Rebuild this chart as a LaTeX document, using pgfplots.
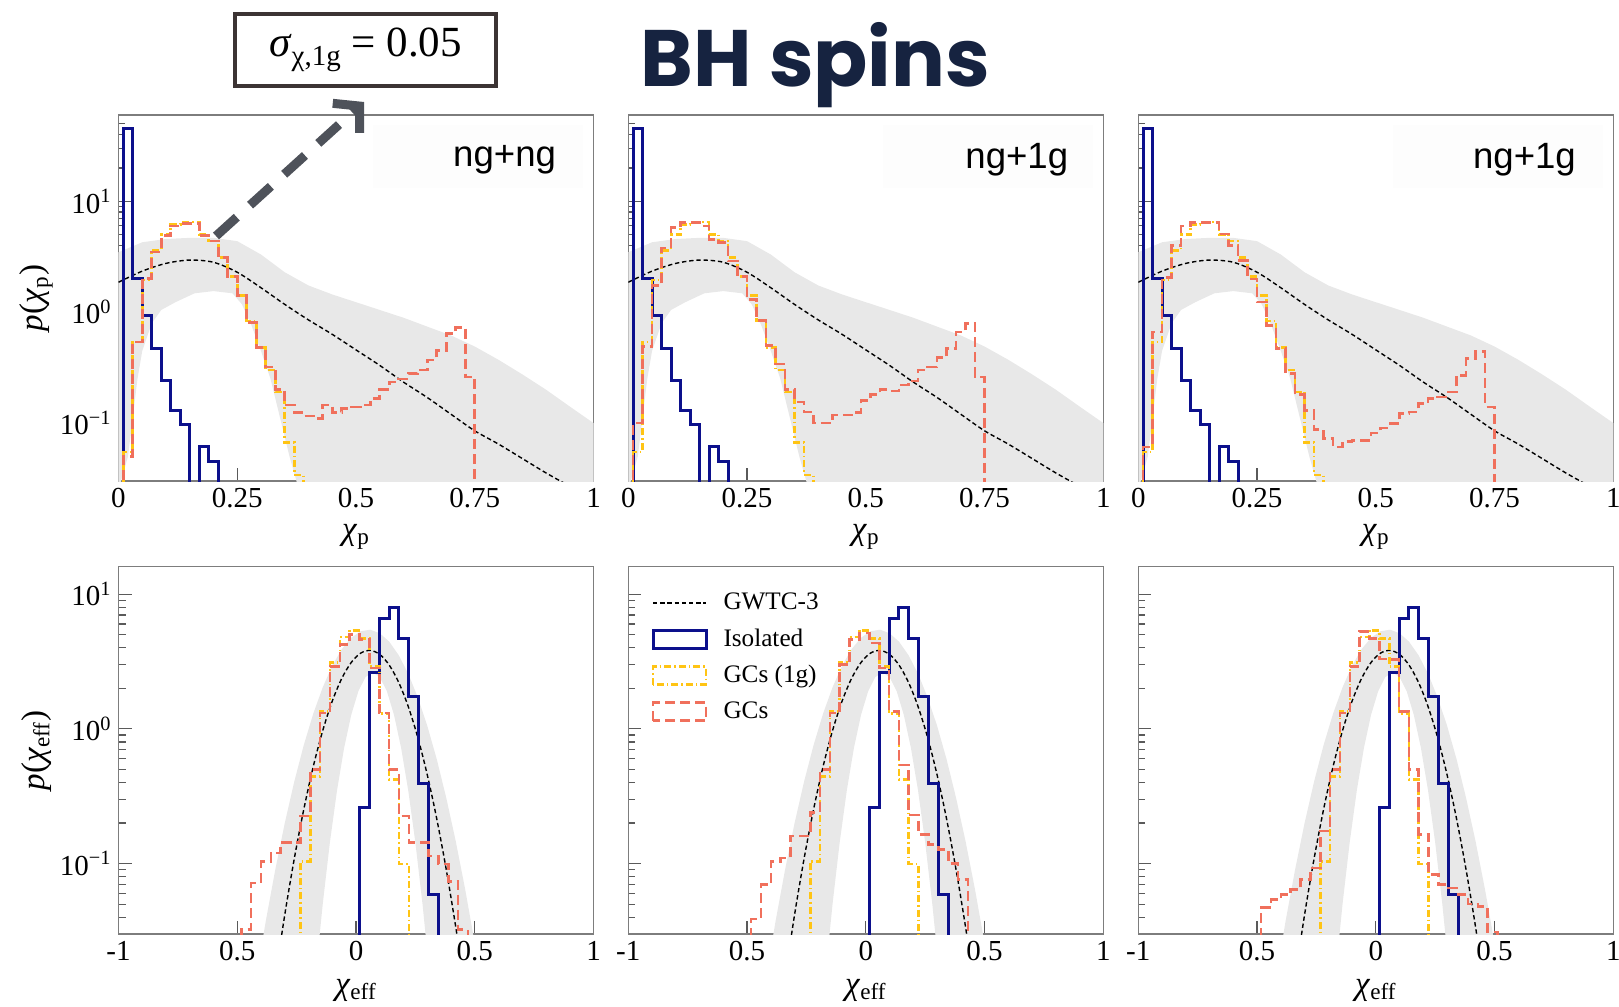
\documentclass[border=0pt]{standalone}
\usepackage{pgfplots}
\pgfplotsset{compat=1.18}
\usepackage{fontspec}
\setmainfont{Liberation Serif}
\newfontfamily\sansfont{Liberation Sans}
\newfontfamily\titlefont{Poppins}
\usetikzlibrary{arrows.meta}

\definecolor{isoblue}{RGB}{12,16,140}
\definecolor{gcyellow}{RGB}{255,196,20}
\definecolor{gcorange}{RGB}{240,112,92}
\definecolor{bandgray}{RGB}{232,232,232}
\definecolor{framegray}{RGB}{125,125,125}
\definecolor{tickgray}{RGB}{90,90,90}
\definecolor{titlenavy}{RGB}{22,35,64}
\definecolor{arrowgray}{RGB}{78,82,90}
\definecolor{boxborder}{RGB}{60,52,52}
\definecolor{boxbg}{RGB}{253,253,253}

\pgfplotsset{
 myPanel/.style={scale only axis, width=237.5pt, ymin=0.03,
   tick align=inside, tick pos=left,
   axis line style={draw=framegray, line width=0.7pt},
   major tick length=6.5pt, minor tick length=3.5pt,
   every tick/.append style={draw=tickgray, line width=0.6pt},
   tick label style={font=\fontsize{14.5}{16}\selectfont},
   ytick={0.1,1,10}, clip=true,
   xlabel style={at={(axis description cs:0.5,-0.153)}, anchor=center, font=\fontsize{16.5}{18}\selectfont},
   ylabel style={at={(axis description cs:-0.173,0.5)}, anchor=center, font=\fontsize{16.5}{18}\selectfont}},
 myTop/.style={myPanel, height=183pt, xmin=0, xmax=1, ymax=60,
   xtick={0,0.25,0.5,0.75,1}, xticklabels={0,0.25,0.5,0.75,1},
   minor ytick={0.03,0.04,0.05,0.06,0.07,0.08,0.09,0.2,0.3,0.4,0.5,0.6,0.7,0.8,0.9,2,3,4,5,6,7,8,9,20,30,40,50},
   xlabel={\textit{χ}\textsubscript{p}}},
 myBot/.style={myPanel, height=183.65pt, xmin=-1, xmax=1, ymax=16,
   xtick={-1,-0.5,0,0.5,1}, xticklabels={-1,0.5,0,0.5,1},
   minor ytick={0.03,0.04,0.05,0.06,0.07,0.08,0.09,0.2,0.3,0.4,0.5,0.6,0.7,0.8,0.9,2,3,4,5,6,7,8,9},
   xlabel={\textit{χ}\textsubscript{eff}}},
 myYlab/.style={yticklabels={10\textsuperscript{−1},10\textsuperscript{0},10\textsuperscript{1}}},
 myNoYlab/.style={yticklabels={}},
 myIso/.style={isoblue, line width=1.5pt, const plot, line join=miter},
 myGcOne/.style={gcyellow, line width=1.3pt, const plot, dash pattern=on 3.5pt off 1.5pt on 0.8pt off 1.5pt},
 myGc/.style={gcorange, line width=1.3pt, const plot, dash pattern=on 5pt off 2.5pt},
 myGw/.style={black, line width=0.7pt, dash pattern=on 2.2pt off 1.4pt, smooth},
 myBand/.style={fill=bandgray, draw=none, forget plot},
 myLegLine/.style={legend image code/.code={\draw[##1] (0pt,0pt) -- (26.5pt,0pt);}},
 myLegRect/.style={legend image code/.code={\draw[##1] (0pt,-4.5pt) rectangle (26.5pt,4.5pt);}},
}

\newcommand\topband{\addplot[myBand] coordinates {(0,3.47) (0.05,4.27) (0.1,4.57) (0.15,4.68) (0.2,4.68) (0.25,4.37) (0.3,3.31) (0.35,2.29) (0.4,1.74) (0.45,1.445) (0.5,1.23) (0.55,1.047) (0.6,0.891) (0.65,0.741) (0.7,0.617) (0.75,0.49) (0.8,0.372) (0.85,0.275) (0.9,0.2) (0.95,0.141) (1.0,0.1) (1.0,0.005) (0.38,0.005) (0.38,0.025) (0.36,0.05) (0.34,0.112) (0.32,0.251) (0.3,0.447) (0.28,0.759) (0.26,1.175) (0.24,1.479) (0.2,1.549) (0.16,1.479) (0.12,1.23) (0.09,1.047) (0.07,0.794) (0.05,0.447) (0.04,0.251) (0.02,0.05) (0,0.025)} -- cycle;}
\newcommand\topgw{\addplot[myGw] coordinates {(0,1.862) (0.05,2.344) (0.1,2.754) (0.15,2.951) (0.2,2.818) (0.25,2.29) (0.3,1.66) (0.35,1.175) (0.4,0.851) (0.45,0.631) (0.5,0.457) (0.55,0.331) (0.6,0.234) (0.65,0.17) (0.7,0.12) (0.75,0.0851) (0.8,0.0646) (0.85,0.0479) (0.9,0.0355) (0.95,0.0269) (1.0,0.0204)};}
\newcommand\topiso{\addplot[myIso] coordinates {(0.01,0.001) (0.01,45) (0.03,2.0) (0.05,0.93) (0.07,0.47) (0.09,0.243) (0.11,0.13) (0.13,0.098) (0.15,0.001) (0.17,0.062) (0.19,0.045) (0.21,0.001)};}
\newcommand\topgcone{\addplot[myGcOne] coordinates {(0.01,0.001) (0.01,0.055) (0.03,0.54) (0.05,1.95) (0.07,3.6) (0.09,5.0) (0.11,6.2) (0.13,6.5) (0.15,6.5) (0.17,5.0) (0.19,4.4) (0.21,3.1) (0.23,2.1) (0.25,1.41) (0.27,0.83) (0.29,0.48) (0.31,0.30) (0.33,0.19) (0.35,0.067) (0.37,0.034) (0.39,0.001)};}

\newcommand\botband{\addplot[myBand] coordinates {(-0.42,0.0142) (-0.38,0.0373) (-0.34,0.0899) (-0.30,0.1995) (-0.26,0.4055) (-0.22,0.757) (-0.18,1.297) (-0.14,2.037) (-0.10,2.944) (-0.06,3.904) (-0.02,4.75) (0.02,5.31) (0.06,5.45) (0.10,5.13) (0.14,4.44) (0.18,3.52) (0.22,2.57) (0.26,1.718) (0.30,1.057) (0.34,0.596) (0.38,0.308) (0.42,0.1466) (0.46,0.064) (0.50,0.0256) (0.54,0.0094) (0.31,0.0149) (0.28,0.0501) (0.25,0.1433) (0.22,0.3486) (0.19,0.722) (0.16,1.271) (0.13,1.905) (0.10,2.426) (0.07,2.63) (0.04,2.426) (0.01,1.905) (-0.02,1.271) (-0.05,0.722) (-0.08,0.3486) (-0.11,0.1433) (-0.14,0.0501) (-0.17,0.0149)} -- cycle;}
\newcommand\botgw[1][]{\addplot[myGw,#1] coordinates {(-0.34,0.0142) (-0.30,0.0416) (-0.26,0.1084) (-0.22,0.252) (-0.18,0.525) (-0.14,0.972) (-0.10,1.607) (-0.06,2.368) (-0.02,3.115) (0.02,3.655) (0.06,3.826) (0.10,3.573) (0.14,2.976) (0.18,2.211) (0.22,1.466) (0.26,0.867) (0.30,0.457) (0.34,0.215) (0.38,0.0903) (0.42,0.0338) (0.46,0.0113)};}
\newcommand\botiso[1][]{\addplot[myIso,#1] coordinates {(0.015,0.001) (0.015,0.26) (0.0565,2.6) (0.098,6.65) (0.1395,7.9) (0.181,4.65) (0.2225,1.75) (0.264,0.39) (0.3055,0.059) (0.347,0.001)};}
\newcommand\botgcone[1][]{\addplot[myGcOne,#1] coordinates {(-0.234,0.001) (-0.234,0.104) (-0.1925,0.445) (-0.151,1.35) (-0.1095,3.1) (-0.068,4.8) (-0.0265,5.4) (0.015,4.7) (0.0565,2.9) (0.098,1.3) (0.1395,0.42) (0.181,0.099) (0.2225,0.001)};}

\begin{document}
\begin{tikzpicture}
\useasboundingbox (0,0) rectangle (809.5pt,-503.5pt);

% ---------- top row ----------
\begin{axis}[ymode=log, myTop, myYlab, at={(59.25pt,-57.5pt)}, anchor=north west,
  ylabel={\textit{p}(\textit{χ}\textsubscript{p})}]
 \fill[boxbg] (rel axis cs:0.536,0.80) rectangle (rel axis cs:0.978,0.973);
 \node[anchor=east, font=\sansfont\fontsize{18.3}{20}\selectfont] at (rel axis cs:0.936,0.877) {ng+ng};
 \topband \topgw \topiso \topgcone
 \addplot[myGc] coordinates {(0.01,0.001) (0.01,0.05) (0.03,0.54) (0.05,2.0) (0.07,3.5) (0.09,4.9) (0.11,6.0) (0.13,6.3) (0.15,6.3) (0.17,4.9) (0.19,4.4) (0.21,3.1) (0.23,2.1) (0.25,1.41) (0.27,0.81) (0.29,0.48) (0.31,0.32) (0.33,0.2) (0.35,0.145) (0.37,0.124) (0.39,0.116) (0.41,0.11) (0.43,0.145) (0.45,0.125) (0.47,0.135) (0.49,0.14) (0.51,0.145) (0.53,0.166) (0.55,0.2) (0.57,0.235) (0.59,0.25) (0.61,0.28) (0.63,0.3) (0.65,0.37) (0.67,0.45) (0.69,0.64) (0.71,0.73) (0.73,0.26) (0.75,0.001)};
\end{axis}

\begin{axis}[ymode=log, myTop, myNoYlab, at={(314.15pt,-57.5pt)}, anchor=north west]
 \fill[boxbg] (rel axis cs:0.536,0.80) rectangle (rel axis cs:0.978,0.973);
 \node[anchor=east, font=\sansfont\fontsize{18.3}{20}\selectfont] at (rel axis cs:0.941,0.877) {ng+1g};
 \topband \topgw \topiso \topgcone
 \addplot[myGc] coordinates {(0.01,0.001) (0.01,0.1) (0.03,0.49) (0.05,1.74) (0.07,3.8) (0.09,5.8) (0.11,6.4) (0.13,6.4) (0.15,6.0) (0.17,4.55) (0.19,4.25) (0.21,2.9) (0.23,2.1) (0.25,1.3) (0.27,0.84) (0.29,0.5) (0.31,0.34) (0.33,0.2) (0.35,0.155) (0.37,0.126) (0.39,0.1) (0.41,0.1) (0.43,0.118) (0.45,0.118) (0.47,0.125) (0.49,0.16) (0.51,0.18) (0.53,0.2) (0.55,0.195) (0.57,0.22) (0.59,0.24) (0.61,0.3) (0.63,0.32) (0.65,0.39) (0.67,0.47) (0.69,0.66) (0.71,0.79) (0.73,0.26) (0.75,0.001)};
\end{axis}

\begin{axis}[ymode=log, myTop, myNoYlab, at={(569.15pt,-57.5pt)}, anchor=north west]
 \fill[boxbg] (rel axis cs:0.536,0.80) rectangle (rel axis cs:0.978,0.973);
 \node[anchor=east, font=\sansfont\fontsize{18.3}{20}\selectfont] at (rel axis cs:0.936,0.877) {ng+1g};
 \topband \topgw \topiso \topgcone
 \addplot[myGc] coordinates {(0.01,0.001) (0.01,0.061) (0.03,0.66) (0.05,2.06) (0.07,3.97) (0.09,6.0) (0.11,6.4) (0.13,6.4) (0.15,6.4) (0.17,5.05) (0.19,3.97) (0.21,2.91) (0.23,1.99) (0.25,1.23) (0.27,0.76) (0.29,0.47) (0.31,0.28) (0.33,0.18) (0.35,0.13) (0.37,0.087) (0.39,0.073) (0.41,0.061) (0.43,0.068) (0.45,0.07) (0.47,0.07) (0.49,0.081) (0.51,0.09) (0.53,0.099) (0.55,0.122) (0.57,0.126) (0.59,0.15) (0.61,0.166) (0.63,0.172) (0.65,0.19) (0.67,0.27) (0.69,0.38) (0.71,0.44) (0.73,0.14) (0.75,0.001)};
\end{axis}

% ---------- bottom row ----------
\begin{axis}[ymode=log, myBot, myYlab, at={(59.25pt,-283.35pt)}, anchor=north west,
  ylabel={\textit{p}(\textit{χ}\textsubscript{eff})}]
 \botband
 \botgw \botiso \botgcone
 \addplot[myGc] coordinates {(-0.483,0.001) (-0.483,0.0325) (-0.4415,0.072) (-0.40,0.104) (-0.3585,0.12) (-0.317,0.143) (-0.2755,0.143) (-0.234,0.225) (-0.1925,0.50) (-0.151,1.31) (-0.1095,2.92) (-0.068,4.22) (-0.0265,5.0) (0.015,4.6) (0.0565,2.83) (0.098,1.31) (0.1395,0.50) (0.181,0.225) (0.2225,0.143) (0.264,0.143) (0.3055,0.114) (0.347,0.099) (0.3885,0.074) (0.43,0.0325) (0.4715,0.001)};
\end{axis}

\begin{axis}[ymode=log, myBot, myNoYlab, at={(314.15pt,-283.35pt)}, anchor=north west,
  legend style={at={(rel axis cs:0.048,0.94)}, anchor=north west, draw=none, fill=none,
    inner sep=0pt, row sep=4pt, column sep=3pt, font=\fontsize{12.6}{15}\selectfont,
    cells={anchor=west}, nodes={inner xsep=5pt}}]
 \botband
 \botgw[myLegLine]
 \addlegendentry{GWTC-3}
 \botiso[myLegRect]
 \addlegendentry{Isolated}
 \botgcone[myLegRect]
 \addlegendentry{GCs (1g)}
 \addplot[myGc, myLegRect] coordinates {(-0.483,0.001) (-0.483,0.0387) (-0.4415,0.07) (-0.40,0.104) (-0.3585,0.11) (-0.317,0.16) (-0.2755,0.16) (-0.234,0.24) (-0.1925,0.50) (-0.151,1.31) (-0.1095,3.0) (-0.068,4.6) (-0.0265,5.15) (0.015,4.35) (0.0565,2.83) (0.098,1.35) (0.1395,0.54) (0.181,0.23) (0.2225,0.165) (0.264,0.138) (0.3055,0.127) (0.347,0.10) (0.3885,0.076) (0.43,0.001)};
 \addlegendentry{GCs}
\end{axis}

\begin{axis}[ymode=log, myBot, myNoYlab, at={(569.15pt,-283.35pt)}, anchor=north west]
 \botband
 \botgw \botiso \botgcone
 \addplot[myGc] coordinates {(-0.483,0.001) (-0.483,0.047) (-0.4415,0.054) (-0.40,0.059) (-0.3585,0.064) (-0.317,0.076) (-0.2755,0.093) (-0.234,0.174) (-0.1925,0.50) (-0.151,1.31) (-0.1095,2.92) (-0.068,5.3) (-0.0265,4.7) (0.015,3.3) (0.0565,3.27) (0.098,1.35) (0.1395,0.5) (0.181,0.165) (0.2225,0.083) (0.264,0.07) (0.3055,0.066) (0.347,0.059) (0.3885,0.05) (0.43,0.048) (0.4715,0.031) (0.513,0.001)};
\end{axis}

% ---------- annotations ----------
\node[anchor=base, text=titlenavy, font=\titlefont\bfseries\fontsize{40}{44}\selectfont] at (407.75pt,-43pt) {BH spins};
\node[draw=boxborder, line width=2.3pt, fill=white, minimum width=130.5pt, minimum height=36pt, inner sep=0pt,
  font=\fontsize{21.5}{24}\selectfont] at (182.75pt,-25pt) {\textit{σ}\raisebox{-4.5pt}{\fontsize{14.5}{16}\selectfont χ,1g} = 0.05};
\draw[arrowgray, line width=4.5pt, dash pattern=on 14pt off 9pt,
  -{Straight Barb[length=9pt, width=20pt, line width=4.5pt]}] (108pt,-118pt) -- (182pt,-51pt);
\end{tikzpicture}
\end{document}
